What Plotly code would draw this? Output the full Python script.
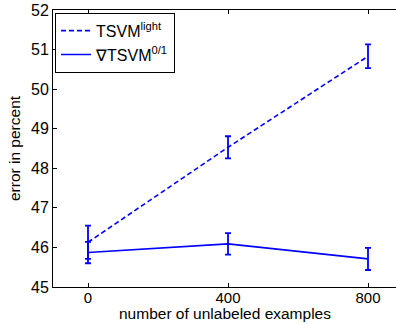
import plotly.graph_objects as go

x_vals = [0, 400, 800]
tsvm_light = [46.13, 48.53, 50.83]
tsvm_light_err = [0.42, 0.28, 0.30]
tsvm01 = [45.87, 46.09, 45.71]
tsvm01_err = [0.27, 0.27, 0.28]
names = ["TSVM<sup>light</sup>", "∇TSVM<sup>0/1</sup>"]

blue = "#0000ff"
fig = go.Figure()
fig.add_trace(go.Scatter(
    x=x_vals, y=tsvm_light, mode="lines", name=names[0],
    line=dict(color=blue, width=1.6, dash="5px,3px"),
    error_y=dict(type="data", array=tsvm_light_err, color=blue, thickness=1.8, width=3),
))
fig.add_trace(go.Scatter(
    x=x_vals, y=tsvm01, mode="lines", name=names[1],
    line=dict(color=blue, width=1.6),
    error_y=dict(type="data", array=tsvm01_err, color=blue, thickness=1.8, width=3),
))

font = dict(family="Liberation Sans, Arial, sans-serif", size=16, color="black")
fig.update_layout(
    width=396, height=324,
    margin=dict(l=53, r=0, t=10, b=37),
    paper_bgcolor="white", plot_bgcolor="white",
    font=font,
    showlegend=True,
    legend=dict(x=0.006, y=0.99, xanchor="left", yanchor="top",
                bgcolor="white", bordercolor="black", borderwidth=1,
                font=dict(family="Liberation Sans, Arial, sans-serif", size=16),
                tracegroupgap=0, itemwidth=30),
    annotations=[dict(text="number of unlabeled examples", xref="paper", yref="paper",
                      x=0.5, y=-0.131, xanchor="center", yanchor="bottom",
                      showarrow=False, borderpad=0, font=dict(size=15.5))],
)
fig.update_xaxes(
    range=[-100, 880], tickvals=x_vals, ticktext=[str(v) for v in x_vals],
    ticks="inside", ticklen=4, tickcolor="black",
    showline=True, linecolor="black", linewidth=1, mirror="ticks",
    showgrid=False, zeroline=False,
    tickfont=dict(size=15), ticklabelstandoff=-3,
)
fig.update_yaxes(
    range=[45, 52], dtick=1,
    ticks="inside", ticklen=4, tickcolor="black",
    showline=True, linecolor="black", linewidth=1,
    showgrid=False, zeroline=False,
    title=dict(text="error in percent", standoff=6, font=dict(size=15.5)),
    tickfont=dict(size=16),
)
fig.write_html("out.html")
